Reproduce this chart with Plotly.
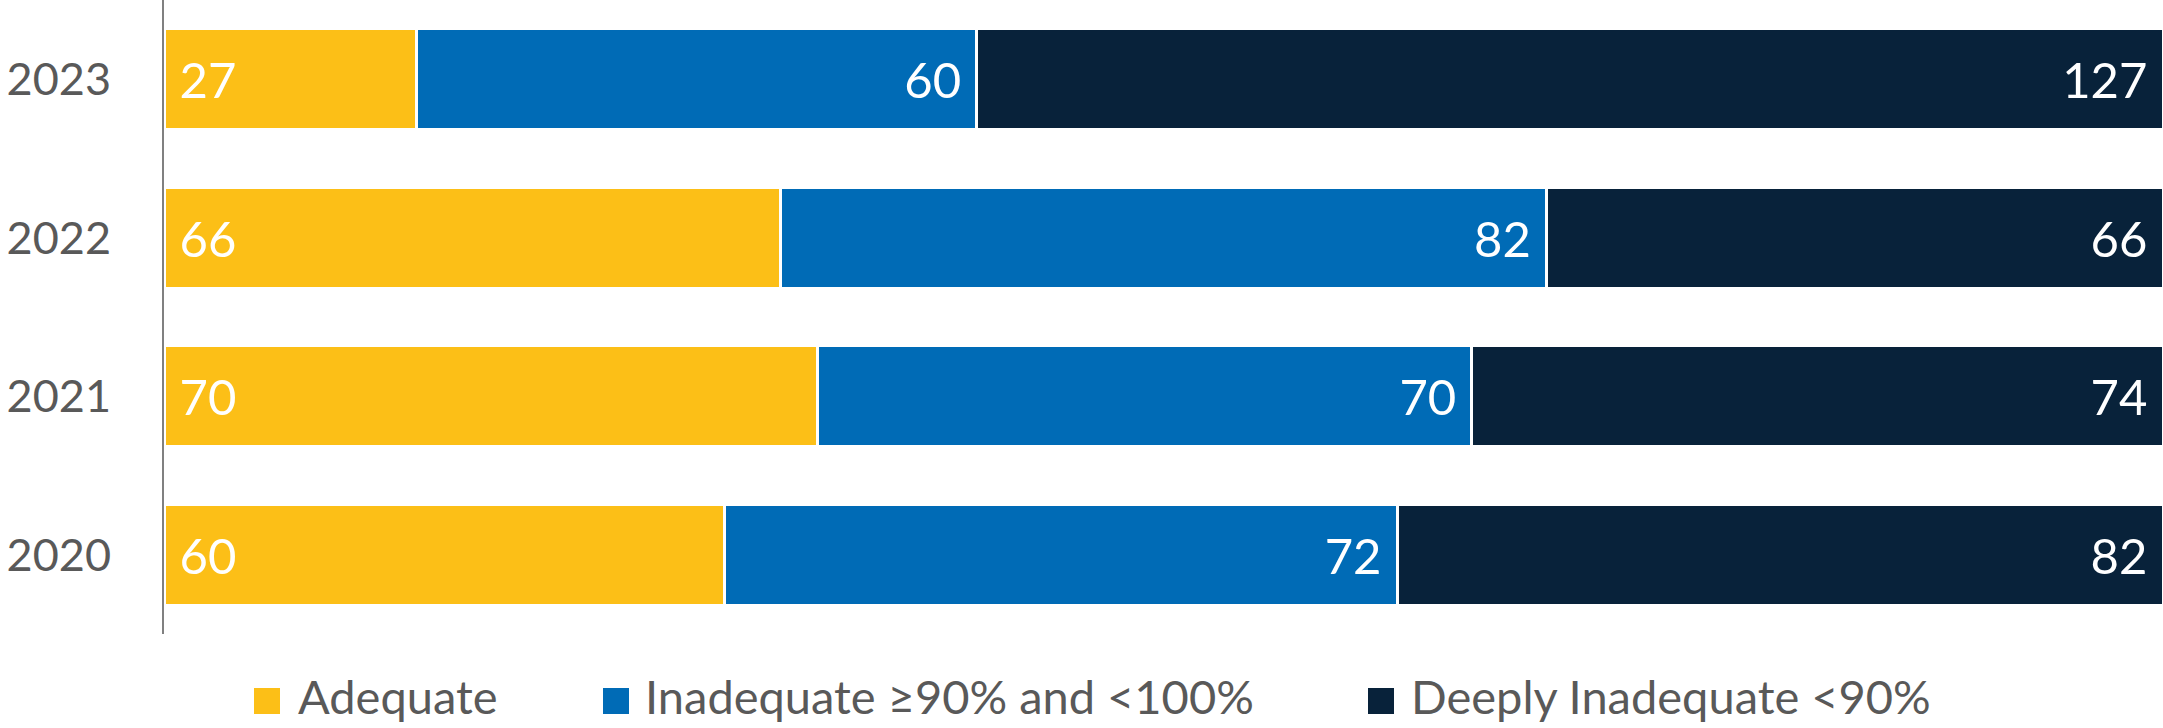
import plotly.graph_objects as go

years = ["2020", "2021", "2022", "2023"]
series_names = ["Adequate", "Inadequate ≥90% and <100%", "Deeply Inadequate <90%"]
adequate = [60, 70, 66, 27]
inadequate = [72, 70, 82, 60]
deeply = [82, 74, 66, 127]
colors = ["#FCBF17", "#006BB6", "#08223A"]

W, H = 2163, 728
ML, MR, MT, MB = 164, 0, 0, 94
PW, PH = W - ML - MR, H - MT - MB

def px_x(p):
    return (p - ML) / PW

def px_y(p):
    return (PH + MT - p) / PH

fig = go.Figure()
vals = [adequate, inadequate, deeply]
anchors = ["start", "end", "end"]
for name, v, c, anc in zip(series_names, vals, colors, anchors):
    tmpl = "\u00a0%{x}" if anc == "start" else "%{x}\u00a0"
    fig.add_trace(go.Bar(
        y=years, x=v, name=name, orientation="h",
        marker=dict(color=c, line=dict(color="white", width=3)),
        texttemplate=tmpl, textposition="inside", insidetextanchor=anc,
        textangle=0, constraintext="none",
        textfont=dict(family="Lato", size=49, color="white"),
        showlegend=False, hoverinfo="skip",
    ))

total = max(a + b + c for a, b, c in zip(adequate, inadequate, deeply))

fig.update_layout(
    barmode="stack", bargap=0.36,
    width=W, height=H,
    margin=dict(l=ML, r=MR, t=MT, b=MB, pad=0),
    plot_bgcolor="white", paper_bgcolor="white",
    font=dict(family="Lato", color="#595959"),
    xaxis=dict(range=[0, total], visible=False, automargin=False),
    yaxis=dict(type="category", showline=True, linecolor="#808080", linewidth=2,
               showgrid=False, ticks="", ticklabelstandoff=42, automargin=False,
               tickfont=dict(family="Lato", size=45, color="#595959")),
)

# legend built from series names / colors
sq_left = [254, 603, 1368]
txt_left = [297, 644, 1410]
for name, c, sx, tx in zip(series_names, colors, sq_left, txt_left):
    fig.add_shape(type="rect", xref="paper", yref="paper",
                  x0=px_x(sx), x1=px_x(sx + 26), y0=px_y(714), y1=px_y(688),
                  fillcolor=c, line=dict(width=0))
    fig.add_annotation(xref="paper", yref="paper", x=px_x(tx), y=px_y(696),
                       xanchor="left", yanchor="middle", showarrow=False,
                       borderpad=0,
                       text=name, font=dict(family="Lato", size=47, color="#595959"))

fig.write_html("out.html", config={"displayModeBar": False},
               post_script="document.body.style.margin='0';document.body.style.overflow='hidden';")
